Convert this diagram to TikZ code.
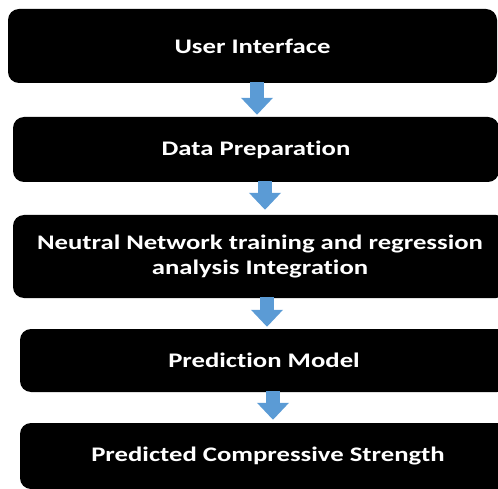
\documentclass[tikz,border=0pt]{standalone}
\usepackage{fontspec}
\setmainfont{Carlito}[FakeStretch=1.29, Ligatures=NoCommon]
\usetikzlibrary{arrows.meta,calc}
\definecolor{flowblue}{RGB}{91,155,213}
\tikzset{
  stage/.style={fill=black, rounded corners=11pt, inner sep=0pt,
    text=white, font=\bfseries\fontsize{20.7}{25}\selectfont, align=center},
  flowarrow/.style={flowblue, line width=14pt,
    -{Triangle[width=31pt,length=17pt]}},
}
\begin{document}
\begin{tikzpicture}[x=1pt,y=-1pt]
  \useasboundingbox (0,0) rectangle (498,489);
  \clip (0,0) rectangle (498,489);
  % process stages, top to bottom
  \node[stage, minimum width=489pt, minimum height=74pt] (ui) at (252.5,46) {User Interface};
  \node[stage, minimum width=486pt, minimum height=65pt] (prep) at (256,149.5) {Data Preparation};
  \node[stage, minimum width=494pt, minimum height=83pt] (nn) at (260,256.5)
    {Neutral Network training and regression\\analysis Integration};
  \node[stage, minimum width=488pt, minimum height=63pt] (model) at (264,360.5) {Prediction Model};
  \node[stage, minimum width=496pt, minimum height=66pt] (out) at (268,456) {Predicted Compressive Strength};
  % block arrows between stages
  \draw[flowarrow] ($(ui.south)+(4.5,-1)$) -- ($(prep.north)+(1,-2)$);
  \draw[flowarrow] ($(prep.south)+(9,-1)$) -- ($(nn.north)+(5,-5)$);
  \draw[flowarrow] ($(nn.south)+(7,-1)$) -- ($(model.north)+(3,-2)$);
  \draw[flowarrow] ($(model.south)+(9,-1)$) -- ($(out.north)+(5,-3)$);
\end{tikzpicture}
\end{document}
